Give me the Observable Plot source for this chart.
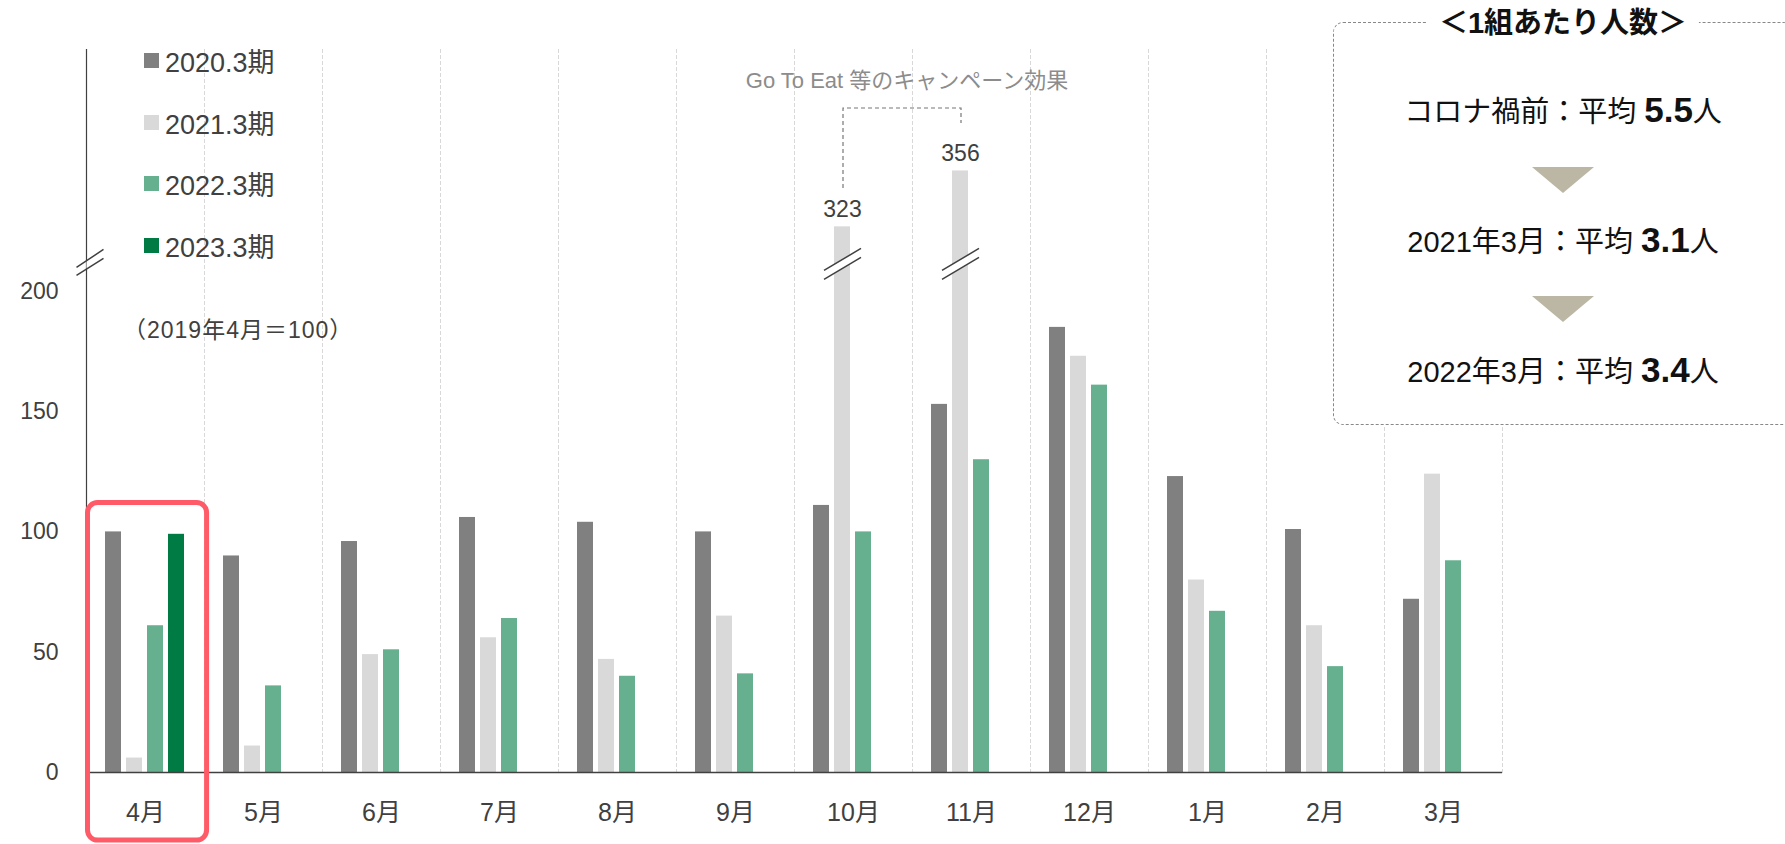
<!DOCTYPE html>
<html>
<head>
<meta charset="utf-8">
<script src="https://cdn.jsdelivr.net/npm/d3@7"></script>
<script src="https://cdn.jsdelivr.net/npm/@observablehq/plot@0.6"></script>
<style>
  body { margin: 0; background: #fff; overflow: hidden; }
  #wrap {
    position: relative; width: 1785px; height: 844px; overflow: hidden;
    font-family: "Liberation Sans", Arial, "Noto Sans CJK JP", sans-serif; color: #404040;
  }
  #wrap svg { position: absolute; left: 0; top: 0; }
  .legend-row { position: absolute; left: 144px; height: 30px; display: flex; align-items: center; font-size: 27px; color: #404040; }
  .legend-row i { display: inline-block; width: 15px; height: 15px; margin-right: 6px; }
  .base-note { position: absolute; left: 123px; top: 311px; font-size: 23px; letter-spacing: 1px; color: #404040; white-space: nowrap; }
  .campaign { position: absolute; left: 907px; top: 62px; transform: translateX(-50%); font-size: 22px; color: #8c8c8c; white-space: nowrap; }
  #info {
    position: absolute; left: 1333px; top: 22px; width: 460px; height: 403px;
    border: 1.2px dashed #888; border-radius: 10px; background: #fff; box-sizing: border-box;
  }
  #info .ttl {
    position: absolute; left: 50%; top: -20px; transform: translateX(-50%);
    background: #fff; padding: 0 12px; font-size: 29px; font-weight: bold; color: #111; white-space: nowrap; line-height: 40px;
  }
  #info .line {
    position: absolute; left: 0; width: 100%; text-align: center; line-height: 44px;
    font-size: 29px; color: #111; white-space: nowrap;
  }
  #info .line b { font-size: 35px; }
  #info .tri { position: absolute; left: 50%; transform: translateX(-50%); width: 0; height: 0;
    border-left: 31px solid transparent; border-right: 31px solid transparent; border-top: 26px solid #BCB7A4; }
</style>
</head>
<body>
<div id="wrap"></div>
<script>
// Months of the fiscal year (April to March)
const months = ["4月", "5月", "6月", "7月", "8月", "9月", "10月", "11月", "12月", "1月", "2月", "3月"];
// Fiscal-year series
const series = ["2020.3期", "2021.3期", "2022.3期", "2023.3期"];
const seriesColors = ["#808080", "#D9D9D9", "#67B08F", "#007B43"];
// Monthly index values (April 2019 = 100)
const v2020 = [100, 90, 96, 106, 104, 100, 111, 153, 185, 123, 101, 72];
const v2021 = [6, 11, 49, 56, 47, 65, 323, 356, 173, 80, 61, 124];
const v2022 = [61, 36, 51, 64, 40, 41, 100, 130, 161, 67, 44, 88];
const v2023 = [99];
const yTicks = [0, 50, 100, 150, 200];
// Broken axis: values between breakLow and breakHigh are folded away,
// and values above breakHigh are drawn on a compressed scale
const breakLow = 212, breakHigh = 302, upperRatio = 0.704, yTop = 300.5;

// Per-person-group summary
const groupSize = [
  { label: "コロナ禍前：平均 ", value: "5.5" },
  { label: "2021年3月：平均 ", value: "3.1" },
  { label: "2022年3月：平均 ", value: "3.4" }
];

const seriesValues = [v2020, v2021, v2022, v2023];
const data = seriesValues.flatMap((vals, s) =>
  vals.map((v, i) => ({ month: months[i], series: series[s], value: v }))
);
const broken = data.filter(d => d.value > breakLow);

const foldY = v => v <= breakLow ? v
  : v < breakHigh ? breakLow
  : breakLow + (v - breakHigh) * upperRatio;

// Break glyph drawn across a tall bar
const barBreakLines = { draw(ctx) {
  ctx.moveTo(-18.5, 6.5); ctx.lineTo(18.5, -15.5);
  ctx.moveTo(-18.5, 15.5); ctx.lineTo(18.5, -6.5);
}};
const barBreakGap = { draw(ctx) {
  const k = 22 / 37;
  ctx.moveTo(-9.5, -4.5 + 9.5 * k); ctx.lineTo(9.5, -4.5 - 9.5 * k);
  ctx.lineTo(9.5, 4.5 - 9.5 * k); ctx.lineTo(-9.5, 4.5 + 9.5 * k); ctx.closePath();
}};
// Break glyph on the y axis
const axisBreakLines = { draw(ctx) {
  ctx.moveTo(-13, 5); ctx.lineTo(14, -13);
  ctx.moveTo(-13, 13); ctx.lineTo(14, -4);
}};
const axisBreakGap = { draw(ctx) {
  ctx.moveTo(-3, -1.7); ctx.lineTo(3, -5.7); ctx.lineTo(3, 2.3); ctx.lineTo(-3, 6.3); ctx.closePath();
}};

const chart = Plot.plot({
  width: 1785,
  height: 844,
  marginLeft: 82,
  marginRight: 280,
  marginTop: 49,
  marginBottom: 72,
  style: {
    fontFamily: "'Liberation Sans', Arial, 'Noto Sans CJK JP', sans-serif",
    fontSize: "23px",
    color: "#404040",
    background: "transparent",
    overflow: "visible"
  },
  fx: { domain: months, padding: 0 },
  x: { domain: series, paddingInner: 0.22, paddingOuter: 0.87, axis: null },
  y: { domain: [0, yTop], transform: foldY },
  color: { domain: series, range: seriesColors },
  marks: [
    // dashed separators between months
    Plot.frame({ anchor: "right", stroke: "#d8d8d8", strokeDasharray: "3,3" }),
    // y axis line, drawn once on the first month
    Plot.frame({ anchor: "left", fx: () => months[0], stroke: "#404040", strokeWidth: 1.2 }),
    Plot.barY(data, { fx: "month", x: "series", y1: 0, y2: "value", fill: "series" }),
    Plot.ruleY([0], { stroke: "#404040", strokeWidth: 1.3 }),
    Plot.axisY({ ticks: yTicks, tickSize: 0, tickPadding: 28, label: null, fontSize: 23 }),
    Plot.axisFx({ anchor: "bottom", tickSize: 0, tickPadding: 31, label: null, fontSize: 25 }),
    // folded section on the tall bars
    Plot.dot(broken, { fx: "month", x: "series", y: () => breakLow, dy: 1.5, symbol: barBreakGap, fill: "#fff", stroke: "none" }),
    Plot.dot(broken, { fx: "month", x: "series", y: () => breakLow, dy: 1.5, symbol: barBreakLines, fill: "none", stroke: "#404040", strokeWidth: 1.5 }),
    Plot.text(broken, { fx: "month", x: "series", y: "value", text: d => String(d.value), dy: -17, fontSize: 23, fill: "#404040" }),
    // folded section on the y axis
    Plot.dot([{ month: months[0] }], { fx: "month", y: () => breakLow, frameAnchor: "left", dx: 3, symbol: axisBreakGap, fill: "#fff", stroke: "none" }),
    Plot.dot([{ month: months[0] }], { fx: "month", y: () => breakLow, frameAnchor: "left", dx: 3, symbol: axisBreakLines, fill: "none", stroke: "#404040", strokeWidth: 1.5 }),
    // highlight around April
    Plot.rect([{ month: months[0] }], { fx: "month", y1: -28.3, y2: 112, insetLeft: 1.5, insetRight: -2.6, rx: 10, fill: "none", stroke: "#FF5A67", strokeWidth: 5 })
  ]
});

const wrap = document.getElementById("wrap");
wrap.appendChild(chart);

// Legend
const legendTops = [45, 107, 168, 230];
series.forEach((s, i) => {
  const row = document.createElement("div");
  row.className = "legend-row";
  row.style.top = legendTops[i] + "px";
  row.innerHTML = `<i style="background:${seriesColors[i]}"></i><span>${s}</span>`;
  wrap.appendChild(row);
});

const note = document.createElement("div");
note.className = "base-note";
note.textContent = "（2019年4月＝100）";
wrap.appendChild(note);

const camp = document.createElement("div");
camp.className = "campaign";
camp.textContent = "Go To Eat 等のキャンペーン効果";
wrap.appendChild(camp);

// Bracket joining the two campaign months
const svgNS = "http://www.w3.org/2000/svg";
const over = document.createElementNS(svgNS, "svg");
over.setAttribute("width", 1785);
over.setAttribute("height", 844);
over.style.pointerEvents = "none";
const path = document.createElementNS(svgNS, "path");
path.setAttribute("d", "M843,188V108H961V123");
path.setAttribute("fill", "none");
path.setAttribute("stroke", "#777");
path.setAttribute("stroke-width", "1.2");
path.setAttribute("stroke-dasharray", "4,3");
over.appendChild(path);
wrap.appendChild(over);

// Summary box
const info = document.createElement("div");
info.id = "info";
let html = `<div class="ttl">＜1組あたり人数＞</div>`;
const lineTops = [65, 195, 325];
groupSize.forEach((g, i) => {
  html += `<div class="line" style="top:${lineTops[i]}px">${g.label}<b>${g.value}</b>人</div>`;
  if (i < groupSize.length - 1) html += `<div class="tri" style="top:${[144, 273][i]}px"></div>`;
});
info.innerHTML = html;
wrap.appendChild(info);
</script>
</body>
</html>
